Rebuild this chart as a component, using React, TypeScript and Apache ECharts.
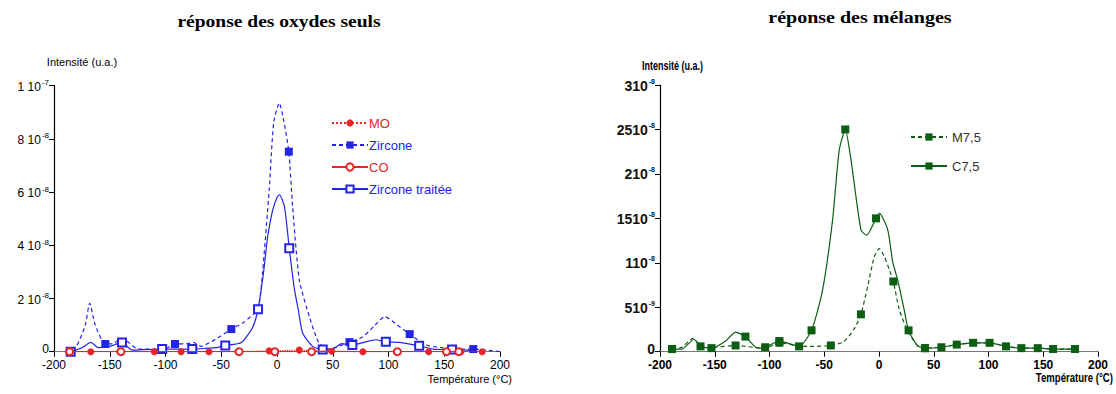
import React, { useEffect, useRef } from "react";
import * as echarts from "echarts";

// ---- Left chart: réponse des oxydes seuls (values in 1e-8 u.a.) ----
const moT = [-187, -167, -141, -110, -86, -61, -35, -7, 20, 49, 77, 107, 136, 165, 184];
const moV = [0, 0, 0, 0, 0, 0, 0, 0.03, 0.06, 0.02, 0, 0, 0, 0, 0];

const zirT = [-190, -180, -172, -168, -163, -154, -147, -140, -133, -125, -110, -100, -91.5, -80, -75, -68, -60, -50, -41, -30, -17, -13, -7, -3, 2, 6, 10.6, 14, 20, 29, 37.6, 46.6, 55, 65, 77, 88, 96.6, 108, 119, 134, 148, 162, 176, 190, 200];
const zirV = [0, 0.2, 1.0, 1.82, 1.0, 0.29, 0.3, 0.5, 0.35, 0.1, 0.1, 0.12, 0.29, 0.3, 0.35, 0.2, 0.35, 0.6, 0.85, 1.1, 1.63, 2.96, 6.08, 8.6, 9.35, 8.7, 7.52, 5.45, 2.7, 1.32, 0.33, 0.1, 0.2, 0.36, 0.56, 1.0, 1.32, 1.0, 0.66, 0.25, 0.15, 0.1, 0.1, 0.05, 0];
const zirMarks = [-154, -91.5, -41, 10.6, 65, 119, 176];

const coT = [-186, -140, -34, -2, 31, 108, 152, 163];
const coV = [0, 0, 0, 0, 0, 0, 0, 0];

const trtT = [-185, -175, -167, -160, -150, -139, -130, -120, -103, -90, -76, -65, -55, -46.4, -32, -22, -17, -12, -8.4, -4, 0, 2.2, 6.7, 11, 15.5, 19, 23, 32, 41, 50, 58, 67.6, 78, 88.6, 97.6, 110, 127.5, 140, 157, 175];
const trtV = [0, 0.15, 0.35, 0.15, 0.2, 0.35, 0.06, 0.08, 0.1, 0.1, 0.1, 0.12, 0.15, 0.23, 0.35, 0.9, 1.6, 3.0, 4.32, 5.3, 5.8, 5.9, 5.45, 3.89, 2.38, 1.6, 0.7, 0.2, 0.08, 0.1, 0.3, 0.25, 0.35, 0.45, 0.37, 0.35, 0.22, 0.1, 0.08, 0.05];
const trtMarks = [-185, -139, -103, -76, -46.4, -17, 11, 41, 67.6, 97.6, 127.5, 157];

const leftYTicks: Record<number, [string, string]> = {
  10: ["1 10", "-7"], 8: ["8 10", "-8"], 6: ["6 10", "-8"], 4: ["4 10", "-8"], 2: ["2 10", "-8"],
};

// ---- Right chart: réponse des mélanges (values in 1e-8 u.a.) ----
const m75T = [-189, -180, -170, -160, -150, -131, -115, -104, -91, -80, -73, -60, -44, -32.4, -23, -16.5, -10.4, -4.3, 0.3, 4.9, 9.5, 13.1, 18.6, 26, 35, 42, 57, 71, 86, 101, 116, 130, 145, 159, 179];
const m75V = [0.03, 0.05, 0.15, 0.04, 0.05, 0.07, 0.05, 0.04, 0.1, 0.08, 0.06, 0.06, 0.07, 0.11, 0.25, 0.42, 0.73, 1.07, 1.16, 1.07, 0.92, 0.79, 0.47, 0.24, 0.07, 0.04, 0.05, 0.08, 0.1, 0.1, 0.06, 0.04, 0.04, 0.03, 0.03];
const m75Marks = [-189, -131, -91, -44, -16.5, 13.1, 42, 86, 130, 159];

const c75T = [-189, -180, -169, -163, -153, -140, -131, -122, -111, -104, -91, -73, -61.6, -51.6, -42.4, -36.3, -30.8, -25.6, -16.5, -11.3, -2.7, 0.3, 8, 12.5, 17, 23, 27, 35, 42, 57, 71, 86, 101, 116, 130, 145, 159, 179];
const c75V = [0.03, 0.03, 0.14, 0.06, 0.04, 0.12, 0.22, 0.17, 0.04, 0.05, 0.12, 0.06, 0.24, 0.69, 1.48, 2.27, 2.5, 2.16, 1.37, 1.31, 1.5, 1.56, 1.37, 1.01, 0.81, 0.47, 0.24, 0.07, 0.04, 0.05, 0.08, 0.1, 0.1, 0.06, 0.04, 0.04, 0.03, 0.03];
const c75Marks = [-189, -163, -153, -122, -104, -91, -73, -61.6, -30.8, -2.7, 27, 42, 57, 71, 101, 116, 145, 179];

const rightYTicks: Record<string, [string, string]> = {
  "3": ["310", "-8"], "2.5": ["2510", "-8"], "2": ["210", "-8"], "1.5": ["1510", "-8"], "1": ["110", "-8"], "0.5": ["510", "-9"],
};

const BLUE = "#2424e6";
const RED = "#e62626";
const GREEN = "#0b5e12";

function mk(T: number[], V: number[], marks: number[] | null) {
  return T.map((t, i) => {
    const show = marks === null || marks.indexOf(t) >= 0;
    return show ? { value: [t, V[i]] } : { value: [t, V[i]], symbol: "none" };
  });
}

export default function App() {
  const ref = useRef<HTMLDivElement>(null);
  useEffect(() => {
    const chart = echarts.init(ref.current!, undefined, { renderer: "svg" });
    const sansFont = "Liberation Sans";
    const xAxisBase = {
      type: "value" as const,
      min: -200,
      max: 200,
      interval: 50,
      splitLine: { show: false },
      axisLine: { show: true, onZero: false, lineStyle: { color: "#777", width: 1.2 } },
      axisTick: { show: true, length: 5, lineStyle: { color: "#000" } },
    };
    const yAxisBase = {
      type: "value" as const,
      min: 0,
      splitLine: { show: false },
      axisLine: { show: true, onZero: false, lineStyle: { color: "#000", width: 1.2 } },
      axisTick: { show: true, length: 5, lineStyle: { color: "#000" } },
    };
    const option: any = {
      animation: false,
      backgroundColor: "#fff",
      grid: [
        { left: 54, right: 616, top: 85.7, bottom: 42.3 },
        { left: 660, right: 18, top: 85, bottom: 42.3 },
      ],
      xAxis: [
        {
          ...xAxisBase,
          gridIndex: 0,
          axisLabel: { color: "#000", fontSize: 12, fontFamily: sansFont, margin: 7 },
        },
        {
          ...xAxisBase,
          gridIndex: 1,
          axisLabel: { color: "#000", fontSize: 12, fontFamily: sansFont, fontWeight: "bold", margin: 7 },
        },
      ],
      yAxis: [
        {
          ...yAxisBase,
          gridIndex: 0,
          max: 10,
          interval: 2,
          axisLabel: {
            margin: 5,
            formatter: (v: number) => {
              const t = leftYTicks[v];
              if (!t) return "{z|0}";
              return `{b|${t[0]}}{s|${t[1]}}`;
            },
            rich: {
              z: { fontSize: 12, fontFamily: sansFont, color: "#000", padding: [0, 0, 5, 0] },
              b: { fontSize: 12, fontFamily: sansFont, color: "#000", lineHeight: 14, verticalAlign: "bottom" },
              s: { fontSize: 8, fontFamily: sansFont, color: "#000", lineHeight: 14, verticalAlign: "top", padding: [0, 0, 2, 1] },
            },
          },
        },
        {
          ...yAxisBase,
          gridIndex: 1,
          max: 3,
          interval: 0.5,
          axisLabel: {
            margin: 5,
            formatter: (v: number) => {
              const t = rightYTicks[String(v)];
              if (!t) return "{z|0}";
              return `{b|${t[0]}}{s|${t[1]}}`;
            },
            rich: {
              z: { fontSize: 14, fontFamily: sansFont, fontWeight: "bold", color: "#111", padding: [0, 0, 5, 0] },
              b: { fontSize: 14, fontFamily: sansFont, fontWeight: "bold", color: "#111", lineHeight: 15, verticalAlign: "bottom" },
              s: { fontSize: 7, fontFamily: sansFont, fontWeight: "bold", color: "#111", lineHeight: 15, verticalAlign: "top", padding: [0, 0, 2, 1] },
            },
          },
        },
      ],
      legend: [
        {
          orient: "vertical",
          left: 331,
          top: 116.5,
          padding: 0,
          itemWidth: 36,
          itemHeight: 9,
          itemGap: 9,
          textStyle: { fontSize: 13, fontFamily: sansFont, padding: [0, 0, 0, -4] },
          data: [
            { name: "MO", textStyle: { color: RED } },
            { name: "Zircone", textStyle: { color: BLUE } },
            { name: "CO", textStyle: { color: RED } },
            { name: "Zircone traitée", textStyle: { color: BLUE } },
          ],
        },
        {
          orient: "vertical",
          left: 910,
          top: 130.5,
          padding: 0,
          itemWidth: 36,
          itemHeight: 9,
          itemGap: 16,
          textStyle: { fontSize: 13, fontFamily: sansFont, color: "#333" },
          data: ["M7,5", "C7,5"],
        },
      ],
      series: [
        {
          name: "MO",
          type: "line",
          xAxisIndex: 0,
          yAxisIndex: 0,
          data: mk(moT, moV, null),
          symbol: "circle",
          symbolSize: 7,
          lineStyle: { color: RED, width: 1.2, type: "dotted" },
          itemStyle: { color: RED },
          z: 3,
        },
        {
          name: "Zircone",
          type: "line",
          xAxisIndex: 0,
          yAxisIndex: 0,
          data: mk(zirT, zirV, zirMarks),
          symbol: "rect",
          symbolSize: 8,
          smooth: 0.2,
          lineStyle: { color: BLUE, width: 1.2, type: [4, 3] },
          itemStyle: { color: BLUE },
          z: 2,
        },
        {
          name: "CO",
          type: "line",
          xAxisIndex: 0,
          yAxisIndex: 0,
          data: mk(coT, coV, null),
          symbol: "emptyCircle",
          symbolSize: 7,
          lineStyle: { color: RED, width: 1.2 },
          itemStyle: { color: RED, borderColor: RED },
          z: 3,
        },
        {
          name: "Zircone traitée",
          type: "line",
          xAxisIndex: 0,
          yAxisIndex: 0,
          data: mk(trtT, trtV, trtMarks),
          symbol: "emptyRect",
          symbolSize: 8,
          smooth: 0.2,
          lineStyle: { color: BLUE, width: 1.2 },
          itemStyle: { color: BLUE, borderColor: BLUE },
          z: 2,
        },
        {
          name: "M7,5",
          type: "line",
          xAxisIndex: 1,
          yAxisIndex: 1,
          data: mk(m75T, m75V, m75Marks),
          symbol: "rect",
          symbolSize: 8,
          smooth: 0.2,
          lineStyle: { color: GREEN, width: 1.2, type: [4, 3] },
          itemStyle: { color: GREEN },
        },
        {
          name: "C7,5",
          type: "line",
          xAxisIndex: 1,
          yAxisIndex: 1,
          data: mk(c75T, c75V, c75Marks),
          symbol: "rect",
          symbolSize: 8,
          smooth: 0.2,
          lineStyle: { color: GREEN, width: 1.2 },
          itemStyle: { color: GREEN },
        },
      ],
      graphic: [
        {
          type: "text",
          x: 279,
          y: 22,
          scaleX: 1.22,
          style: { x: 0, y: 0, text: "réponse des oxydes seuls", textAlign: "center", textVerticalAlign: "middle", font: "bold 16px 'Liberation Serif'", fill: "#000" },
        },
        {
          type: "text",
          x: 860,
          y: 18,
          scaleX: 1.25,
          style: { x: 0, y: 0, text: "réponse des mélanges", textAlign: "center", textVerticalAlign: "middle", font: "bold 16px 'Liberation Serif'", fill: "#000" },
        },
        {
          type: "text",
          style: { x: 82, y: 62, text: "Intensité (u.a.)", textAlign: "center", textVerticalAlign: "middle", font: "11px 'Liberation Sans'", fill: "#000" },
        },
        {
          type: "text",
          x: 642,
          y: 65,
          scaleX: 0.75,
          style: { x: 0, y: 0, text: "Intensité (u.a.)", textAlign: "left", textVerticalAlign: "middle", font: "bold 12px 'Liberation Sans'", fill: "#000" },
        },
        {
          type: "text",
          style: { x: 512, y: 379, text: "Température (°C)", textAlign: "right", textVerticalAlign: "middle", font: "11px 'Liberation Sans'", fill: "#000" },
        },
        {
          type: "text",
          x: 1113,
          y: 378,
          scaleX: 0.8,
          style: { x: 0, y: 0, text: "Température (°C)", textAlign: "right", textVerticalAlign: "middle", font: "bold 12px 'Liberation Sans'", fill: "#000" },
        },
      ],
    };
    chart.setOption(option);
    return () => chart.dispose();
  }, []);
  return (
    <div
      ref={ref}
      style={{ position: "absolute", left: 0, top: 0, width: 1116, height: 394, background: "#fff" }}
    />
  );
}
